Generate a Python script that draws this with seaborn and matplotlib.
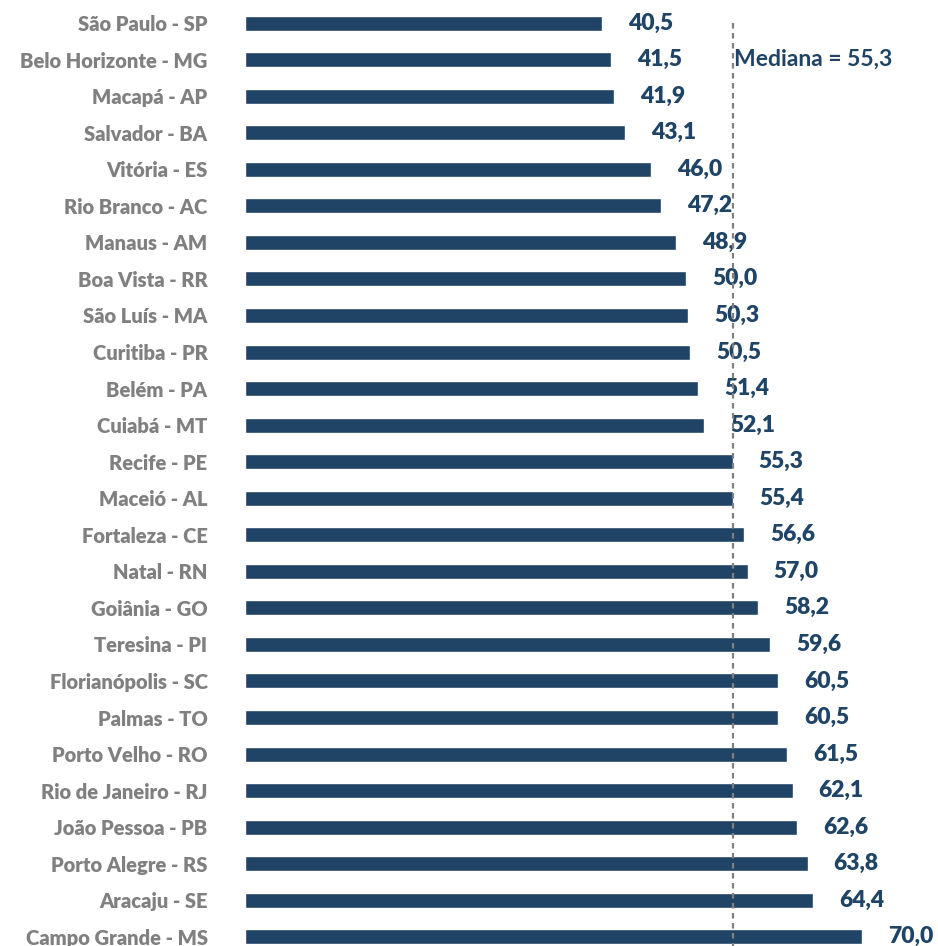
import matplotlib
matplotlib.use("Agg")
import matplotlib.pyplot as plt
import seaborn as sns
import pandas as pd

cities = [
    "São Paulo - SP", "Belo Horizonte - MG", "Macapá - AP", "Salvador - BA",
    "Vitória - ES", "Rio Branco - AC", "Manaus - AM", "Boa Vista - RR",
    "São Luís - MA", "Curitiba - PR", "Belém - PA", "Cuiabá - MT",
    "Recife - PE", "Maceió - AL", "Fortaleza - CE", "Natal - RN",
    "Goiânia - GO", "Teresina - PI", "Florianópolis - SC", "Palmas - TO",
    "Porto Velho - RO", "Rio de Janeiro - RJ", "João Pessoa - PB",
    "Porto Alegre - RS", "Aracaju - SE", "Campo Grande - MS",
]
values = [
    40.5, 41.5, 41.9, 43.1, 46.0, 47.2, 48.9, 50.0, 50.3, 50.5, 51.4, 52.1,
    55.3, 55.4, 56.6, 57.0, 58.2, 59.6, 60.5, 60.5, 61.5, 62.1, 62.6,
    63.8, 64.4, 70.0,
]
median_value = 55.3
median_label = "Mediana = 55,3"

BAR = "#1F4466"
GREY = "#808080"

sns.set_style("white")
plt.rcParams["font.family"] = ["Lato", "DejaVu Sans"]

df = pd.DataFrame({"cidade": cities, "valor": values})

fig = plt.figure(figsize=(9.38, 9.46), dpi=100)
ax = fig.add_axes([245 / 938, 0, 693 / 938, 1])

sns.barplot(data=df, x="valor", y="cidade", color=BAR, width=0.41,
            saturation=1, ax=ax)

ax.set_xlim(0, 78.6)
ax.set_ylim(25.25, -0.63)

# value labels just right of each bar
for i, v in enumerate(values):
    ax.annotate(f"{v:.1f}".replace(".", ","), xy=(v, i), xytext=(26, 0),
                textcoords="offset pixels", ha="left", va="center",
                fontsize=16.5, fontweight="heavy", color=BAR)

# dashed median reference line
ax.vlines(median_value, 0, 26, colors=GREY, linestyles=(0, (2.5, 2)),
          linewidth=1.6, zorder=5)
ax.text(median_value + 0.15, 1, median_label, ha="left", va="center",
        fontsize=16.5, fontweight="bold", color=BAR)

ax.set_xlabel("")
ax.set_ylabel("")
ax.set_xticks([])
ax.tick_params(axis="y", length=0, pad=27, labelsize=14.5, labelcolor=GREY)
for lab in ax.get_yticklabels():
    lab.set_fontweight("heavy")
for s in ax.spines.values():
    s.set_visible(False)

fig.savefig("out.png", dpi=100)
